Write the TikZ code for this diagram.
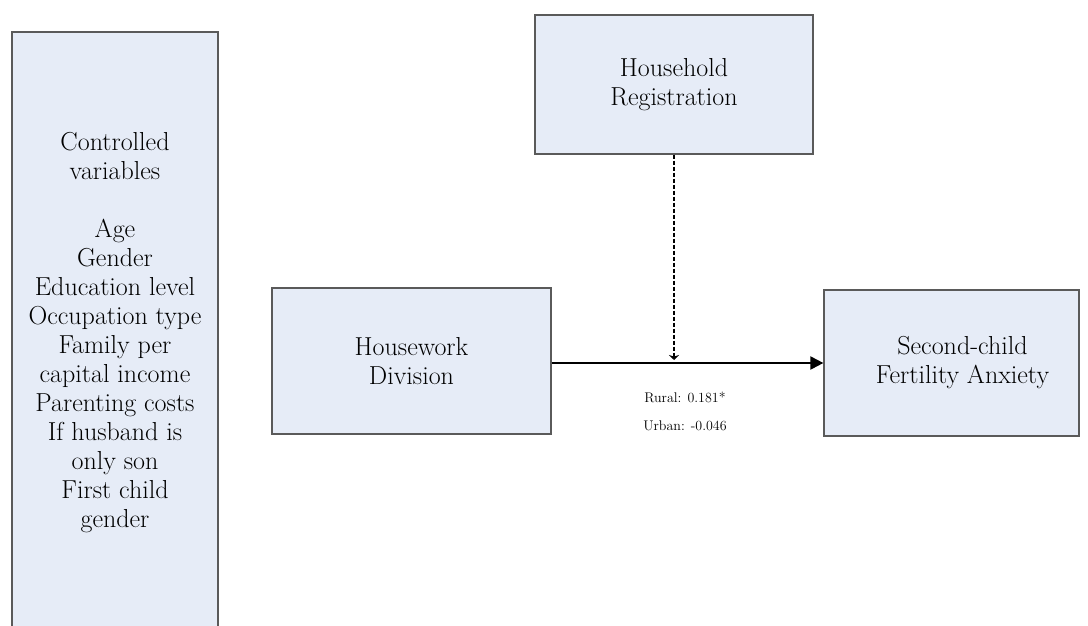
\documentclass[tikz,border=0pt]{standalone}
\usetikzlibrary{positioning,arrows.meta}
\definecolor{boxfill}{RGB}{230,236,247}
\definecolor{boxline}{RGB}{90,90,90}
\tikzset{
  varbox/.style={draw=boxline, line width=1.2pt, fill=boxfill, align=center,
    inner sep=0pt, font=\fontsize{26}{29}\selectfont},
  coef/.style={font=\fontsize{14}{16}\selectfont}
}

\begin{document}
\begin{tikzpicture}[x=1pt,y=-1pt]
		\useasboundingbox (0,0) rectangle (1088,626);
		\node[varbox, minimum width=206pt, minimum height=602pt] (ctrl) at (115,333)
			{Controlled\\variables\\[29pt]Age\\Gender\\Education level\\Occupation type\\Family per\\capital income\\Parenting costs\\If husband is\\only son\\First child\\gender};
		\node[varbox, minimum width=278pt, minimum height=139pt] (reg) at (674,84.5) {Household\\Registration};
		\node[varbox, minimum width=279pt, minimum height=146pt] (hw) at (411.5,361) {Housework\\Division};
		\node[varbox, minimum width=255pt, minimum height=146pt] (anx) at (951.5,363) {};
		\node[font=\fontsize{26}{29}\selectfont, align=center] (anxtxt) at ([xshift=11pt]anx.center) {Second-child\\Fertility Anxiety};
		\draw[line width=2pt, -{Triangle[length=13pt,width=13pt]}] (hw.east |- anx.west) -- (anx.west);
		\coordinate (mod) at ([yshift=3pt]reg.south |- anx.west);
		\draw[line width=1.8pt, dash pattern=on 4pt off 2pt, -{Stealth[length=5pt,width=10pt]}] (reg.south) -- (mod);
		\node[coef] (rural) at (685,397) {Rural: 0.181*};
		\node[coef] (urban) at (685,426) {Urban: -0.046};
	\end{tikzpicture}
\end{document}
